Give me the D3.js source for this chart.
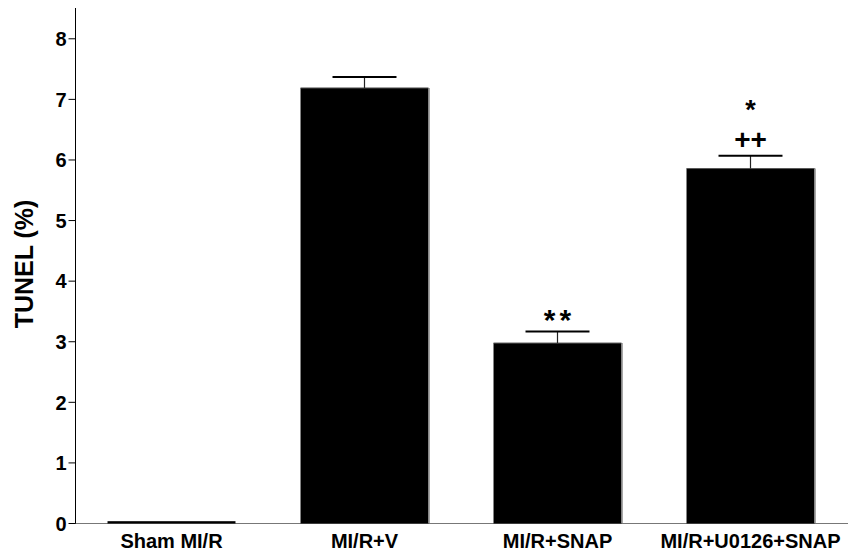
<!DOCTYPE html>
<html>
<head>
<meta charset="utf-8">
<script src="https://cdn.jsdelivr.net/npm/d3@7"></script>
<style>
  html, body { margin: 0; padding: 0; background: #fff; }
  svg { display: block; font-family: Arial, "Liberation Sans", Helvetica, sans-serif; }
</style>
</head>
<body>
<svg id="chart" width="858" height="554"></svg>
<script>
const categories = ["Sham MI/R", "MI/R+V", "MI/R+SNAP", "MI/R+U0126+SNAP"];
const values = [0.03, 7.18, 2.97, 5.85];
const errors = [0, 0.18, 0.19, 0.21];
const annotations = [[], [], ["**"], ["++", "*"]];
const yTicks = [0, 1, 2, 3, 4, 5, 6, 7, 8];
const yTitle = "TUNEL (%)";

const svg = d3.select("#chart");
const x0 = 75, x1 = 847, yTop = 8, yBottom = 523;

const x = d3.scaleBand().domain(categories).range([x0, x1])
  .paddingInner(0.337).paddingOuter(0.1685);
const y = d3.scaleLinear().domain([0, 8.5]).range([yBottom, yTop]);

// x baseline
svg.append("line")
  .attr("x1", x0).attr("x2", x1 + 1)
  .attr("y1", y(0) + 0.5).attr("y2", y(0) + 0.5)
  .attr("stroke", "#777").attr("stroke-width", 1);

// bars
const bw = x.bandwidth();
const g = svg.append("g");
categories.forEach((c, i) => {
  const bx = x(c), by = y(values[i]);
  g.append("rect")
    .attr("x", bx).attr("y", by)
    .attr("width", bw).attr("height", y(0) - by + 0.5)
    .attr("fill", "#000");
  if (values[i] > 0.5) {
    g.append("line")
      .attr("x1", bx + bw + 0.5).attr("x2", bx + bw + 0.5)
      .attr("y1", by).attr("y2", y(0))
      .attr("stroke", "#888").attr("stroke-width", 1.5);
    g.append("line")
      .attr("x1", bx).attr("x2", bx + bw)
      .attr("y1", by).attr("y2", by)
      .attr("stroke", "#555").attr("stroke-width", 1);
  }
  // error bars
  if (errors[i] > 0) {
    const cx = bx + bw / 2;
    const ey = y(values[i] + errors[i]);
    g.append("line")
      .attr("x1", cx).attr("x2", cx)
      .attr("y1", ey).attr("y2", by)
      .attr("stroke", "#222").attr("stroke-width", 1.2);
    g.append("line")
      .attr("x1", cx - bw / 4).attr("x2", cx + bw / 4)
      .attr("y1", ey).attr("y2", ey)
      .attr("stroke", "#000").attr("stroke-width", 2);
    // annotations: glyph centres stacked above the cap
    annotations[i].forEach((t, k) => {
      const isStar = t.indexOf("*") >= 0;
      const fs = isStar ? (t.length > 1 ? 30 : 27) : 28;
      const centre = ey - 16 - k * 34;
      g.append("text")
        .attr("x", cx + (isStar && t.length > 1 ? 2 : 0))
        .attr("y", centre + (isStar ? 0.48 : 0.34) * fs)
        .attr("text-anchor", "middle")
        .attr("font-size", fs)
        .attr("font-weight", "bold")
        .attr("letter-spacing", isStar && t.length > 1 ? 4 : 0)
        .attr("fill", "#000")
        .text(t);
    });
  }
});

// y axis
const yAxis = d3.axisLeft(y).tickValues(yTicks).tickSize(7).tickPadding(2)
  .tickFormat(d3.format("d"));
const ya = svg.append("g").attr("transform", `translate(${x0 + 0.5},0)`).call(yAxis);
ya.select(".domain").attr("d", `M0,${yTop}V${yBottom + 0.5}`).attr("stroke", "#000");
ya.selectAll(".tick line").attr("stroke", "#000");
ya.selectAll(".tick text")
  .attr("font-size", 20).attr("font-weight", "bold").attr("fill", "#000")
  .attr("font-family", "Arial, 'Liberation Sans', sans-serif")
  .attr("dy", "0.36em");

// x labels
svg.append("g").selectAll("text").data(categories).join("text")
  .attr("x", d => x(d) + bw / 2)
  .attr("y", 548)
  .attr("text-anchor", "middle")
  .attr("font-size", 20).attr("font-weight", "bold").attr("fill", "#000")
  .text(d => d);

// y title
svg.append("text")
  .attr("transform", "translate(33,264) rotate(-90)")
  .attr("text-anchor", "middle")
  .attr("font-size", 25).attr("font-weight", "bold").attr("fill", "#000")
  .text(yTitle);
</script>
</body>
</html>
